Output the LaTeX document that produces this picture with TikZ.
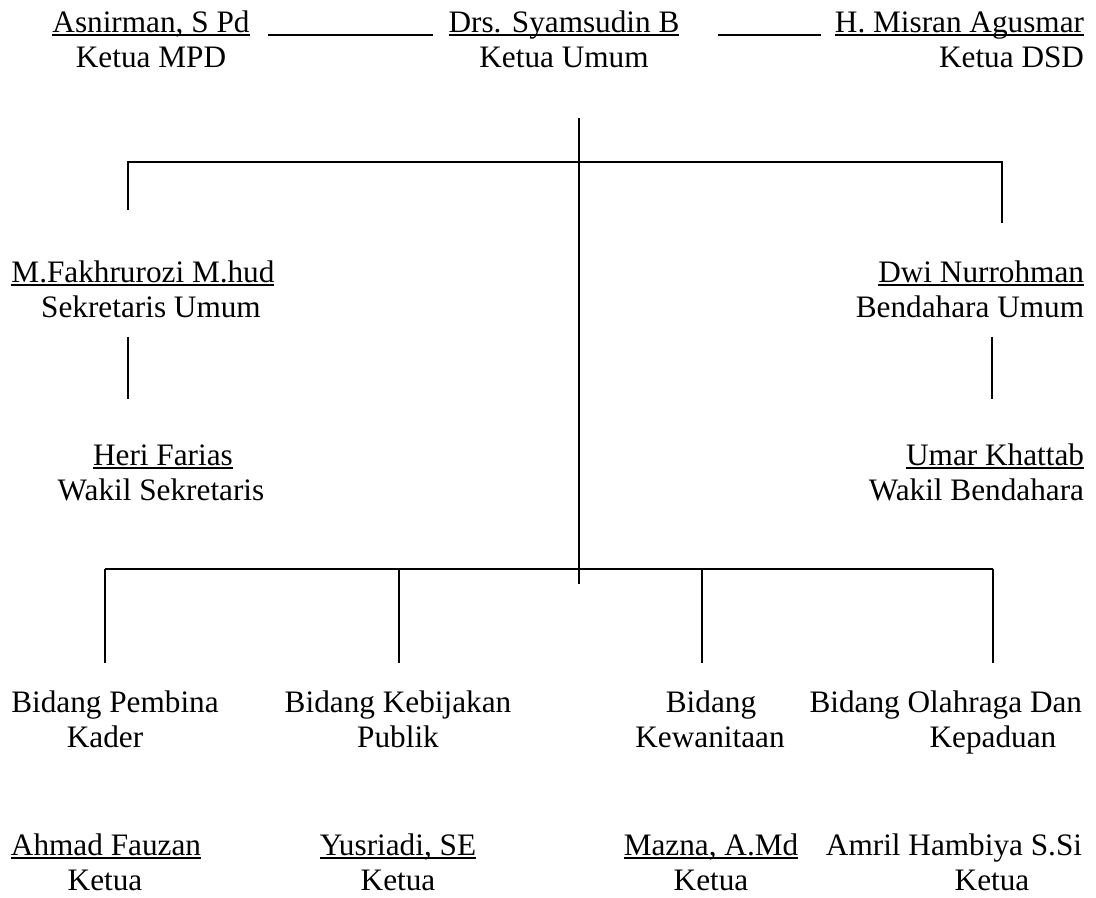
\documentclass[tikz,border=0pt]{standalone}
\usepackage{fontspec}
\setmainfont{Liberation Serif}
\usepackage{tikz}

% underline that cuts through descenders, as in the chart
\newcommand{\nameline}[1]{\setbox0\hbox{#1}\rlap{\rule[-1.3pt]{\wd0}{0.7pt}}\box0}

\begin{document}
\begin{tikzpicture}[x=0.4pt,y=-0.4pt,line width=0.75pt,
                    every node/.style={inner sep=0pt,font=\fontsize{12.5pt}{15pt}\selectfont}]
                \useasboundingbox (0,0) rectangle (1096,898);
                % top row
                \node (mpdName) at (151,33) [anchor=base] {\nameline{Asnirman, S Pd}};
                \node (mpdRole) at (151,68) [anchor=base] {Ketua MPD};
                \node (umumName) at (564,33) [anchor=base] {\nameline{Drs. Syamsudin B}};
                \node (umumRole) at (564,68) [anchor=base] {Ketua Umum};
                \node (dsdName) at (1085,33) [anchor=base east] {\nameline{H. Misran Agusmar}};
                \node (dsdRole) at (1085,68) [anchor=base east] {Ketua DSD};
                \coordinate (mpdLine) at (268,35);
                \coordinate (umumLineL) at (433,35);
                \coordinate (umumLineR) at (718,35);
                \coordinate (dsdLine) at (821,35);
                \draw (mpdLine) -- (umumLineL);
                \draw (umumLineR) -- (dsdLine);
                % trunk and upper bar
                \coordinate (trunkTop) at (579,118);
                \coordinate (trunkBot) at (579,584);
                \coordinate (barL) at (128,162);
                \coordinate (barR) at (1002,162);
                \coordinate (sekDrop) at (128,210);
                \coordinate (benDrop) at (1002,223);
                \draw (trunkTop) -- (trunkBot);
                \draw (sekDrop) -- (barL) -- (barR) -- (benDrop);
                % sekretaris side
                \node (sekName) at (143,283) [anchor=base] {\nameline{M.Fakhrurozi M.hud}};
                \node (sekRole) at (151,318) [anchor=base] {Sekretaris Umum};
                \node (wsekName) at (163,466) [anchor=base] {\nameline{Heri Farias}};
                \node (wsekRole) at (161,501) [anchor=base] {Wakil Sekretaris};
                \coordinate (sekTop) at (128,337);
                \coordinate (sekBot) at (128,399);
                \draw (sekTop) -- (sekBot);
                % bendahara side
                \node (benName) at (1085,283) [anchor=base east] {\nameline{Dwi Nurrohman}};
                \node (benRole) at (1085,318) [anchor=base east] {Bendahara Umum};
                \node (wbenName) at (1085,466) [anchor=base east] {\nameline{Umar Khattab}};
                \node (wbenRole) at (1085,501) [anchor=base east] {Wakil Bendahara};
                \coordinate (benTop) at (992,337);
                \coordinate (benBot) at (992,399);
                \draw (benTop) -- (benBot);
                % lower bar and the four bidang
                \coordinate (lowL) at (105,569);
                \coordinate (lowR) at (993,569);
                \draw (lowL) -- (lowR);
                \foreach \xb/\nm in {105/kader,399/publik,702/wanita,993/olahraga} {
                  \coordinate (\nm Top) at (\xb,569);
                  \coordinate (\nm Bot) at (\xb,663);
                  \draw (\nm Top) -- (\nm Bot);
                }
                \node (kaderA) at (115,713) [anchor=base] {Bidang Pembina};
                \node (kaderB) at (105,748) [anchor=base] {Kader};
                \node (kaderName) at (106,856) [anchor=base] {\nameline{Ahmad Fauzan}};
                \node (kaderRole) at (105,891) [anchor=base] {Ketua};
                \node (publikA) at (398,713) [anchor=base] {Bidang Kebijakan};
                \node (publikB) at (398,748) [anchor=base] {Publik};
                \node (publikName) at (398,856) [anchor=base] {\nameline{Yusriadi, SE}};
                \node (publikRole) at (398,891) [anchor=base] {Ketua};
                \node (wanitaA) at (711,713) [anchor=base] {Bidang};
                \node (wanitaB) at (710,748) [anchor=base] {Kewanitaan};
                \node (wanitaName) at (711,856) [anchor=base] {\nameline{Mazna, A.Md}};
                \node (wanitaRole) at (711,891) [anchor=base] {Ketua};
                \node (olahragaA) at (1083,713) [anchor=base east] {Bidang Olahraga Dan};
                \node (olahragaB) at (993,748) [anchor=base] {Kepaduan};
                \node (olahragaName) at (1083,856) [anchor=base east] {Amril Hambiya S.Si};
                \node (olahragaRole) at (992,891) [anchor=base] {Ketua};
              \end{tikzpicture}
\end{document}
